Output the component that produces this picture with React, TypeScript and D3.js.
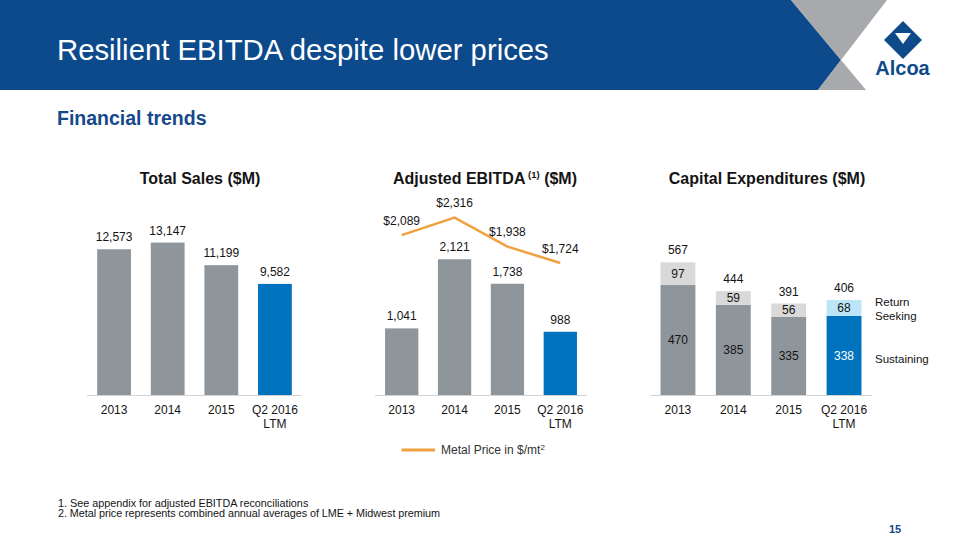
import React from "react";
import * as d3 from "d3";

const categories = ["2013", "2014", "2015", "Q2 2016|LTM"];
const salesValues = [12573, 13147, 11199, 9582];
const ebitdaValues = [1041, 2121, 1738, 988];
const metalPrice = [2089, 2316, 1938, 1724];
const capexSustaining = [470, 385, 335, 338];
const capexReturnSeeking = [97, 59, 56, 68];
const capexTotal = [567, 444, 391, 406];

const FONT = "'Liberation Sans', Arial, Helvetica, sans-serif";
const GRAY = "#8E969B";
const BLUE = "#0073BE";
const LIGHT_GRAY = "#D9D9D9";
const LIGHT_BLUE = "#BDE5F8";
const ORANGE = "#F0A13F";
const HEADER_BLUE = "#0C4A8C";
const TEXT = "#141414";

const BASE = 395;
const fmt = d3.format(",");
const fmtPrice = d3.format("$,");

function makeX(r0: number, r1: number) {
  return d3.scaleBand<number>().domain(d3.range(categories.length)).range([r0, r1]).paddingInner(0.37).paddingOuter(0.19);
}

function CategoryAxis({ x }: { x: d3.ScaleBand<number> }) {
  const [r0, r1] = x.range();
  return (
    <g>
      <line x1={r0} x2={r1} y1={BASE + 0.5} y2={BASE + 0.5} stroke="#D3D3D3" strokeWidth={1} />
      {categories.map((c, i) => {
        const cx = (x(i) as number) + x.bandwidth() / 2;
        return c.split("|").map((ln, j) => (
          <text key={i + "-" + j} x={cx} y={413.5 + j * 14} textAnchor="middle" fontSize={12} fill={TEXT}>
            {ln}
          </text>
        ));
      })}
    </g>
  );
}

export default function App() {
  const x1 = makeX(87, 302);
  const x2 = makeX(375, 587);
  const x3 = makeX(650, 872);
  const ySales = d3.scaleLinear().domain([0, 14000]).range([BASE, BASE - 162.3]);
  const yEbitda = d3.scaleLinear().domain([0, 2500]).range([BASE, BASE - 160]);
  const yPrice = d3.scaleLinear().domain([0, 2500]).range([BASE, BASE - 191.4]);
  const yCapex = d3.scaleLinear().domain([0, 600]).range([BASE, BASE - 140.4]);

  const line = d3
    .line<number>()
    .x((_, i) => (x2(i) as number) + x2.bandwidth() / 2)
    .y((d) => yPrice(d));

  const barColor = (i: number) => (i === categories.length - 1 ? BLUE : GRAY);

  return (
    <svg width={960} height={540} style={{ position: "absolute", left: 0, top: 0 }} fontFamily={FONT}>
      <rect x={0} y={0} width={960} height={540} fill="#fff" />
      {/* Header */}
      <polygon points="0,0 791,0 841,60 818,90 0,90" fill={HEADER_BLUE} />
      <polygon points="791,0 887,0 841,60 866,90 818,90 841,60" fill="#A7A9AC" />
      <text x={57} y={60} fontSize={29.3} fill="#fff">
        Resilient EBITDA despite lower prices
      </text>
      {/* Logo */}
      <polygon points="903,21 922,40 903,59 884,40" fill="#0E4A8A" />
      <polygon points="895,33 911,33 903,44" fill="#fff" />
      <text x={902.5} y={75} fontSize={20} fontWeight="bold" fill="#0E4A8A" textAnchor="middle">
        Alcoa
      </text>

      <text x={57} y={124.5} fontSize={19.5} fontWeight="bold" fill="#16498A">
        Financial trends
      </text>

      {/* Chart 1: Total Sales */}
      <text x={200} y={184} fontSize={16} fontWeight="bold" textAnchor="middle" fill={TEXT}>
        Total Sales ($M)
      </text>
      {salesValues.map((v, i) => (
        <g key={"s" + i}>
          <rect x={x1(i)} y={ySales(v)} width={x1.bandwidth()} height={BASE - ySales(v)} fill={barColor(i)} />
          <text x={(x1(i) as number) + x1.bandwidth() / 2} y={ySales(v) - 8} fontSize={12} textAnchor="middle" fill={TEXT}>
            {fmt(v)}
          </text>
        </g>
      ))}
      <CategoryAxis x={x1} />

      {/* Chart 2: Adjusted EBITDA */}
      <text x={485} y={184} fontSize={16} fontWeight="bold" textAnchor="middle" fill={TEXT}>
        Adjusted EBITDA
        <tspan fontSize={9.5} dy={-6}> (1)</tspan>
        <tspan dy={6}> ($M)</tspan>
      </text>
      {ebitdaValues.map((v, i) => (
        <g key={"e" + i}>
          <rect x={x2(i)} y={yEbitda(v)} width={x2.bandwidth()} height={BASE - yEbitda(v)} fill={barColor(i)} />
          <text x={(x2(i) as number) + x2.bandwidth() / 2} y={yEbitda(v) - 8} fontSize={12} textAnchor="middle" fill={TEXT}>
            {fmt(v)}
          </text>
        </g>
      ))}
      <path d={line(metalPrice) || ""} fill="none" stroke={ORANGE} strokeWidth={2.5} />
      {metalPrice.map((v, i) => (
        <text key={"p" + i} x={(x2(i) as number) + x2.bandwidth() / 2} y={yPrice(v) - 10.5} fontSize={12} textAnchor="middle" fill={TEXT}>
          {fmtPrice(v)}
        </text>
      ))}
      <CategoryAxis x={x2} />
      <line x1={401.5} x2={435} y1={450} y2={450} stroke={ORANGE} strokeWidth={3} />
      <text x={441} y={454.2} fontSize={12} fill="#333">
        Metal Price in $/mt
        <tspan fontSize={8} dy={-4.5}>2</tspan>
      </text>

      {/* Chart 3: Capital Expenditures */}
      <text x={767} y={184} fontSize={16} fontWeight="bold" textAnchor="middle" fill={TEXT}>
        Capital Expenditures ($M)
      </text>
      {capexSustaining.map((v, i) => {
        const r = capexReturnSeeking[i];
        const cx = (x3(i) as number) + x3.bandwidth() / 2;
        const last = i === categories.length - 1;
        return (
          <g key={"c" + i}>
            <rect x={x3(i)} y={yCapex(v)} width={x3.bandwidth()} height={BASE - yCapex(v)} fill={barColor(i)} />
            <rect x={x3(i)} y={yCapex(v + r)} width={x3.bandwidth()} height={yCapex(v) - yCapex(v + r)} fill={last ? LIGHT_BLUE : LIGHT_GRAY} />
            <text x={cx} y={(yCapex(v) + BASE) / 2 + 4.3} fontSize={12} textAnchor="middle" fill={last ? "#fff" : TEXT}>
              {fmt(v)}
            </text>
            <text x={cx} y={(yCapex(v) + yCapex(v + r)) / 2 + 4.3} fontSize={12} textAnchor="middle" fill={TEXT}>
              {fmt(r)}
            </text>
            <text x={cx} y={yCapex(capexTotal[i]) - 8} fontSize={12} textAnchor="middle" fill={TEXT}>
              {fmt(capexTotal[i])}
            </text>
          </g>
        );
      })}
      <CategoryAxis x={x3} />
      <text x={875} y={305.7} fontSize={11.5} fill={TEXT}>Return</text>
      <text x={875} y={319.7} fontSize={11.5} fill={TEXT}>Seeking</text>
      <text x={875} y={363.3} fontSize={11.5} fill={TEXT}>Sustaining</text>

      {/* Footnotes */}
      <text x={58} y={506.5} fontSize={10.8} fill={TEXT}>
        1. See appendix for adjusted EBITDA reconciliations
      </text>
      <text x={58} y={517.2} fontSize={10.8} fill={TEXT} textLength={382} lengthAdjust="spacing">
        2. Metal price represents combined annual averages of LME + Midwest premium
      </text>
      <text x={895} y={533} fontSize={11} fontWeight="bold" textAnchor="middle" fill="#16498A">
        15
      </text>
    </svg>
  );
}
